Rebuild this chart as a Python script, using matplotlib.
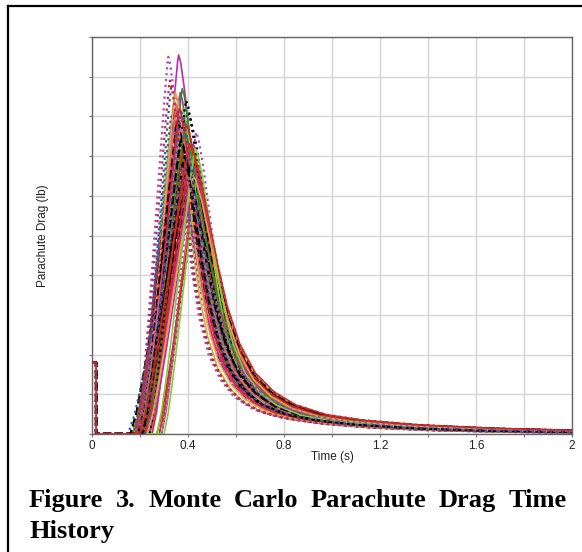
import matplotlib.pyplot as plt
from matplotlib.lines import Line2D
import numpy as np

# Monte Carlo runs: inflation start (s), peak drag (grid units), time stretch
run_onset = [
    0.20, 0.22, 0.18, 0.21, 0.24, 0.19, 0.23, 0.17, 0.20, 0.28,
    0.21, 0.19, 0.22, 0.29, 0.18, 0.20, 0.23, 0.21, 0.16, 0.24,
    0.22, 0.19, 0.20, 0.27, 0.21, 0.18, 0.23, 0.20, 0.25, 0.22,
    0.17, 0.21, 0.19, 0.24, 0.20, 0.22, 0.18, 0.23, 0.21, 0.28,
    0.19, 0.20, 0.22, 0.16, 0.24, 0.21, 0.18, 0.23, 0.20, 0.29,
    0.19, 0.22, 0.21, 0.17, 0.24, 0.20, 0.22, 0.19, 0.23, 0.21,
    0.18, 0.30, 0.20, 0.22, 0.15, 0.21, 0.24, 0.19, 0.23, 0.20,
    0.22, 0.21, 0.20, 0.23, 0.19, 0.27, 0.21, 0.18, 0.22, 0.20,
]
run_peak = [
    7.4, 8.1, 6.6, 7.9, 6.9, 8.4, 7.2, 6.1, 8.8, 6.5,
    7.6, 7.0, 9.55, 6.8, 7.8, 8.2, 6.4, 7.3, 5.6, 7.7,
    6.9, 9.5, 7.5, 6.2, 8.0, 7.1, 8.6, 6.7, 7.0, 7.9,
    6.3, 8.3, 7.4, 7.2, 6.8, 8.5, 7.7, 6.6, 8.1, 6.0,
    7.3, 7.9, 6.5, 6.9, 8.7, 7.5, 7.0, 8.2, 6.2, 7.6,
    8.0, 6.8, 7.4, 7.1, 6.4, 8.3, 7.8, 6.9, 7.2, 8.6,
    7.5, 6.6, 7.9, 8.0, 6.0, 7.3, 8.4, 7.1, 6.8, 7.7,
    8.2, 7.0, 7.6, 6.5, 8.9, 7.2, 7.4, 6.7, 8.1, 7.3,
]
run_stretch = [
    1.05, 0.90, 1.25, 0.85, 1.10, 0.95, 1.00, 1.30, 0.82, 0.95,
    1.15, 1.20, 0.88, 0.92, 1.05, 0.92, 1.15, 1.25, 1.35, 0.90,
    1.10, 0.80, 1.28, 1.05, 0.95, 1.18, 0.86, 1.20, 0.95, 1.02,
    1.22, 0.90, 1.10, 1.12, 1.30, 0.85, 1.00, 1.08, 1.18, 0.98,
    1.00, 1.12, 1.22, 1.28, 0.85, 1.05, 1.15, 0.92, 1.26, 0.90,
    0.88, 1.18, 1.02, 1.20, 1.15, 0.95, 1.08, 1.30, 1.00, 0.86,
    1.08, 0.88, 0.98, 0.92, 1.35, 1.22, 0.95, 1.12, 1.18, 1.05,
    0.90, 1.10, 1.16, 1.20, 0.84, 1.00, 1.00, 1.25, 0.95, 1.30,
]

# nominal inflation profile: time after onset (s) and fraction of peak drag
profile_tau = [0.00, 0.02, 0.04, 0.06, 0.08, 0.10, 0.12, 0.14, 0.155, 0.16,
               0.17, 0.19, 0.22, 0.25, 0.28, 0.32, 0.37, 0.43, 0.50, 0.60,
               0.72, 0.90, 1.15, 1.45, 1.85, 2.30]
profile_frac = [0.00, 0.08, 0.20, 0.33, 0.47, 0.61, 0.75, 0.89, 0.98, 1.00,
                0.98, 0.90, 0.74, 0.58, 0.44, 0.31, 0.21, 0.145, 0.10, 0.066,
                0.047, 0.031, 0.019, 0.011, 0.006, 0.003]

# snatch load at line stretch
snatch_drag = 1.8
snatch_end = 0.017

x_ticks = [0, 0.2, 0.4, 0.6, 0.8, 1.0, 1.2, 1.4, 1.6, 1.8, 2.0]
x_tick_labels = ['0', '', '0.4', '', '0.8', '', '1.2', '', '1.6', '', '2']
y_ticks = [0, 1, 2, 3, 4, 5, 6, 7, 8, 9, 10]

run_colors = ['#d7261e', 'black', '#2e8b2e', '#e8a33a', '#d7261e', '#7fcf3f',
              'black', '#9b4fc9', '#3050c0', '#d7261e', 'black', '#8a5a2b',
              '#c02cae', '#e85d8a']
run_styles = ['-', '--', '-', '-', ':', '-', '--', ':', ':', '-', ':', ':',
              '-', '-']

fig = plt.figure(figsize=(5.82, 5.52), dpi=100)
W, H = 582, 552
ax = fig.add_axes([92 / W, 1 - 434 / H, 480 / W, 397 / H])

tau = np.array(profile_tau)
frac = np.array(profile_frac)
for i, (t0, pk, st) in enumerate(zip(run_onset, run_peak, run_stretch)):
    t = np.concatenate([[0, snatch_end, snatch_end, t0], t0 + st * tau[1:]])
    d = np.concatenate([[snatch_drag, snatch_drag, 0, 0], pk * frac[1:]])
    ls = run_styles[i % len(run_styles)]
    ax.plot(t, d, color=run_colors[i % len(run_colors)], ls=ls,
            lw=1.2 if ls == '-' else 1.6, zorder=3)

ax.set_xlim(0, 2)
ax.set_ylim(0, 10)
ax.set_xticks(x_ticks)
ax.set_xticklabels(x_tick_labels, fontsize=8.5, family='Liberation Sans',
                   color='#222222')
ax.set_yticks(y_ticks)
ax.set_yticklabels([])
ax.tick_params(length=2.5, width=0.8, color='#777777', pad=2)
ax.grid(True, color='#d4d4d4', lw=1.0, zorder=0)
ax.set_axisbelow(True)
for sp in ax.spines.values():
    sp.set_color('#666666')
    sp.set_linewidth(1.0)

ax.set_xlabel('Time (s)', fontsize=8.5, family='Liberation Sans', color='#222222')
ax.xaxis.set_label_coords(0.5, -0.043)
ax.set_ylabel('Parachute Drag (lb)', fontsize=8.5, family='Liberation Sans',
              color='#222222')
ax.yaxis.set_label_coords(-0.09, 0.5)

# page frame around the figure
fig.add_artist(Line2D([8 / W, 8 / W], [0, 1 - 6 / H], color='black', lw=1.6,
                      transform=fig.transFigure))
fig.add_artist(Line2D([8 / W, 1], [1 - 6 / H, 1 - 6 / H], color='black', lw=1.6,
                      transform=fig.transFigure))

# justified caption, first line spread across the column
cap_font = dict(family='Liberation Serif', fontweight='bold', fontsize=19,
                color='black')
words = ['Figure', '3.', 'Monte', 'Carlo', 'Parachute', 'Drag', 'Time']
left, right = 29, 567
fig.canvas.draw()
renderer = fig.canvas.get_renderer()
texts = [fig.text(0, 1 - 507 / H, w, ha='left', va='baseline', **cap_font)
         for w in words]
widths = [t.get_window_extent(renderer).width for t in texts]
gap = (right - left - sum(widths)) / (len(words) - 1)
x = left
for t, w in zip(texts, widths):
    t.set_x(x / W)
    x += w + gap
fig.text(left / W, 1 - 538 / H, 'History', ha='left', va='baseline', **cap_font)

fig.savefig('out.png', dpi=100)
